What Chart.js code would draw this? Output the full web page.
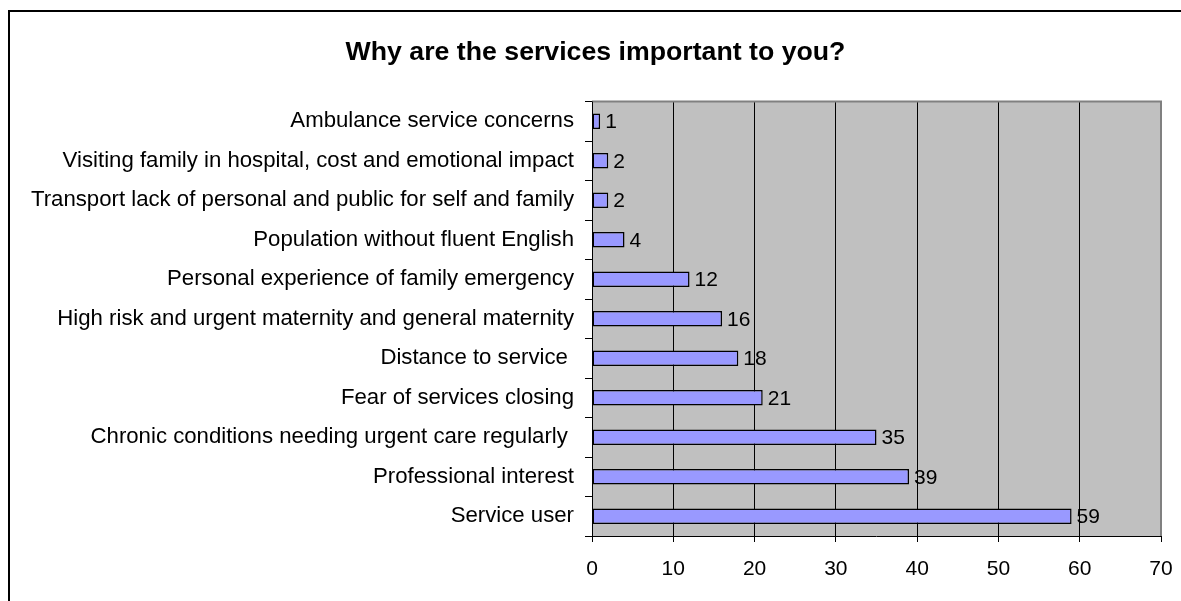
<!DOCTYPE html>
<html>
<head>
<meta charset="utf-8">
<script src="https://cdn.jsdelivr.net/npm/chart.js@4"></script>
<style>
html,body{margin:0;padding:0;background:#fff;}
#wrap{width:1181px;height:601px;position:relative;}
</style>
</head>
<body>
<div id="wrap"><canvas id="c" width="1181" height="601"></canvas></div>
<script>
const titleText = "Why are the services important to you?";
const categories = [
  "Ambulance service concerns",
  "Visiting family in hospital, cost and emotional impact",
  "Transport lack of personal and public for self and family",
  "Population without fluent English",
  "Personal experience of family emergency",
  "High risk and urgent maternity and general maternity",
  "Distance to service ",
  "Fear of services closing",
  "Chronic conditions needing urgent care regularly ",
  "Professional interest",
  "Service user"
];
const values = [1, 2, 2, 4, 12, 16, 18, 21, 35, 39, 59];
const xMin = 0, xMax = 70, xStep = 10;

const FONT = "'Liberation Sans', Arial, sans-serif";

const framePlugin = {
  id: 'frame',
  beforeDraw(chart) {
    const ctx = chart.ctx;
    ctx.save();
    ctx.fillStyle = '#ffffff';
    ctx.fillRect(0, 0, chart.width, chart.height);
    const a = chart.chartArea;
    ctx.fillStyle = '#C0C0C0';
    ctx.fillRect(a.left, a.top, a.right - a.left, a.bottom - a.top);
    ctx.restore();
  },
  afterDraw(chart) {
    const ctx = chart.ctx;
    const a = chart.chartArea;
    ctx.save();
    // plot border top/right gray
    ctx.strokeStyle = '#808080';
    ctx.lineWidth = 2;
    ctx.beginPath();
    ctx.moveTo(a.left, a.top);
    ctx.lineTo(a.right, a.top);
    ctx.lineTo(a.right, a.bottom);
    ctx.stroke();
    // axes black
    ctx.strokeStyle = '#000';
    ctx.lineWidth = 1;
    ctx.beginPath();
    ctx.moveTo(Math.round(a.left) + 0.5, a.top);
    ctx.lineTo(Math.round(a.left) + 0.5, a.bottom);
    ctx.moveTo(a.left, Math.round(a.bottom) + 0.5);
    ctx.lineTo(a.right, Math.round(a.bottom) + 0.5);
    ctx.stroke();
    // outer border
    ctx.lineWidth = 2;
    ctx.strokeRect(9, 11, chart.width + 50, chart.height + 50);
    // title
    ctx.fillStyle = '#000';
    ctx.font = 'bold 26.7px ' + FONT;
    ctx.textAlign = 'center';
    ctx.textBaseline = 'middle';
    ctx.fillText(titleText, 595.5, 53);
    // value labels
    ctx.font = '21px ' + FONT;
    ctx.textAlign = 'left';
    ctx.textBaseline = 'middle';
    const meta = chart.getDatasetMeta(0);
    meta.data.forEach((bar, i) => {
      ctx.fillText(String(values[i]), bar.x + 5, bar.y + 1);
    });
    ctx.restore();
  }
};

new Chart(document.getElementById('c'), {
  type: 'bar',
  data: {
    labels: categories,
    datasets: [{
      data: values,
      backgroundColor: '#9999FF',
      borderColor: '#000000',
      borderWidth: 1.5,
      borderSkipped: false,
      categoryPercentage: 1,
      barPercentage: 0.39
    }]
  },
  options: {
    indexAxis: 'y',
    responsive: false,
    animation: false,
    devicePixelRatio: 1,
    layout: { padding: { left: 0, right: 20, top: 101.5, bottom: 0 } },
    plugins: {
      legend: { display: false },
      tooltip: { enabled: false },
      title: { display: false }
    },
    scales: {
      x: {
        min: xMin, max: xMax,
        ticks: { stepSize: xStep, color: '#000', font: { family: FONT, size: 21 }, padding: 15, maxRotation: 0 },
        grid: {
          color: ctx => (ctx.tick && ctx.tick.value === xMax) ? 'rgba(0,0,0,0)' : '#000',
          tickColor: '#000',
          lineWidth: 1,
          tickLength: 6,
          drawTicks: true
        },
        border: { display: false },
        afterFit(scale) { scale.height = 65; scale.paddingLeft = 0; scale.paddingRight = 0; }
      },
      y: {
        ticks: { color: '#000', font: { family: FONT, size: 22.2 }, padding: 11, autoSkip: false },
        grid: {
          drawOnChartArea: false,
          drawTicks: true,
          tickLength: 7,
          color: '#000',
          tickColor: '#000',
          offset: true
        },
        border: { display: false },
        afterFit(scale) { scale.width = 592; scale.paddingTop = 0; scale.paddingBottom = 0; }
      }
    }
  },
  plugins: [framePlugin]
});
</script>
</body>
</html>
